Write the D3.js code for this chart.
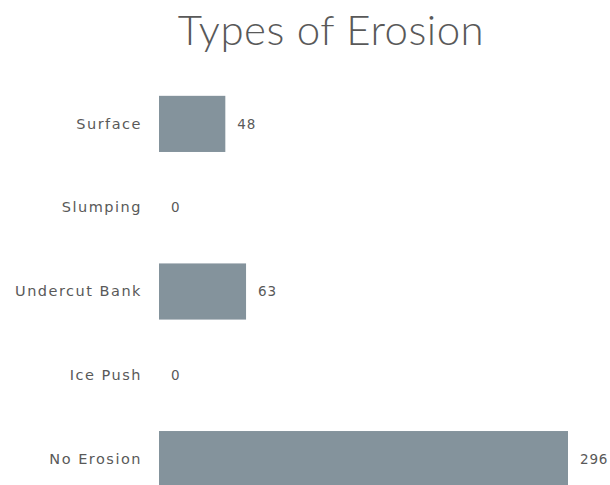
<!DOCTYPE html>
<html>
<head>
<meta charset="utf-8">
<script src="https://cdn.jsdelivr.net/npm/d3@7"></script>
<style>
  body { margin: 0; background: #fff; }
  text { font-family: "DejaVu Sans", sans-serif; fill: #595959; }
</style>
</head>
<body>
<div class="erosion-graph"></div>
<script>
var categories = ["Surface", "Slumping", "Undercut Bank", "Ice Push", "No Erosion"];
var values = [48, 0, 63, 0, 296];

var width = 610, height = 485;

var svg = d3.select(".erosion-graph").append("svg")
    .attr("width", width)
    .attr("height", height);

// bands run past the bottom edge, like the original crop
var x = d3.scaleLinear().domain([0, 296]).range([159, 568]);
var y = d3.scaleBand().domain(categories).range([82, 501]).paddingInner(0.33).paddingOuter(0.165);

var data = categories.map(function(c, i) { return {cat: c, value: values[i]}; });

svg.append("text")
    .attr("x", 331)
    .attr("y", 45)
    .attr("text-anchor", "middle")
    .style("font-family", "Lato, sans-serif")
    .style("font-weight", "300")
    .style("font-size", "42px")
    .style("letter-spacing", "0.5px")
    .text("Types of Erosion");

var yAxis = svg.append("g")
    .attr("transform", "translate(159,0)")
    .call(d3.axisLeft(y).tickSize(0).tickPadding(17));
yAxis.select(".domain").remove();
yAxis.selectAll("text")
    .style("font-size", "14.5px")
    .style("font-family", "DejaVu Sans, sans-serif")
    .style("letter-spacing", "1.5px")
    .attr("fill", "#595959");

svg.selectAll(".bar")
    .data(data)
  .enter().append("rect")
    .attr("class", "bar")
    .attr("x", x(0))
    .attr("y", function(d) { return y(d.cat); })
    .attr("height", y.bandwidth())
    .attr("width", function(d) { return x(d.value) - x(0); })
    .attr("fill", "#84939c");

svg.selectAll(".val")
    .data(data)
  .enter().append("text")
    .attr("class", "val")
    .attr("x", function(d) { return x(d.value) + 12; })
    .attr("y", function(d) { return y(d.cat) + y.bandwidth() / 2; })
    .attr("dy", ".35em")
    .style("font-size", "13.5px")
    .style("letter-spacing", "0.8px")
    .text(function(d) { return d.value; });
</script>
</body>
</html>
